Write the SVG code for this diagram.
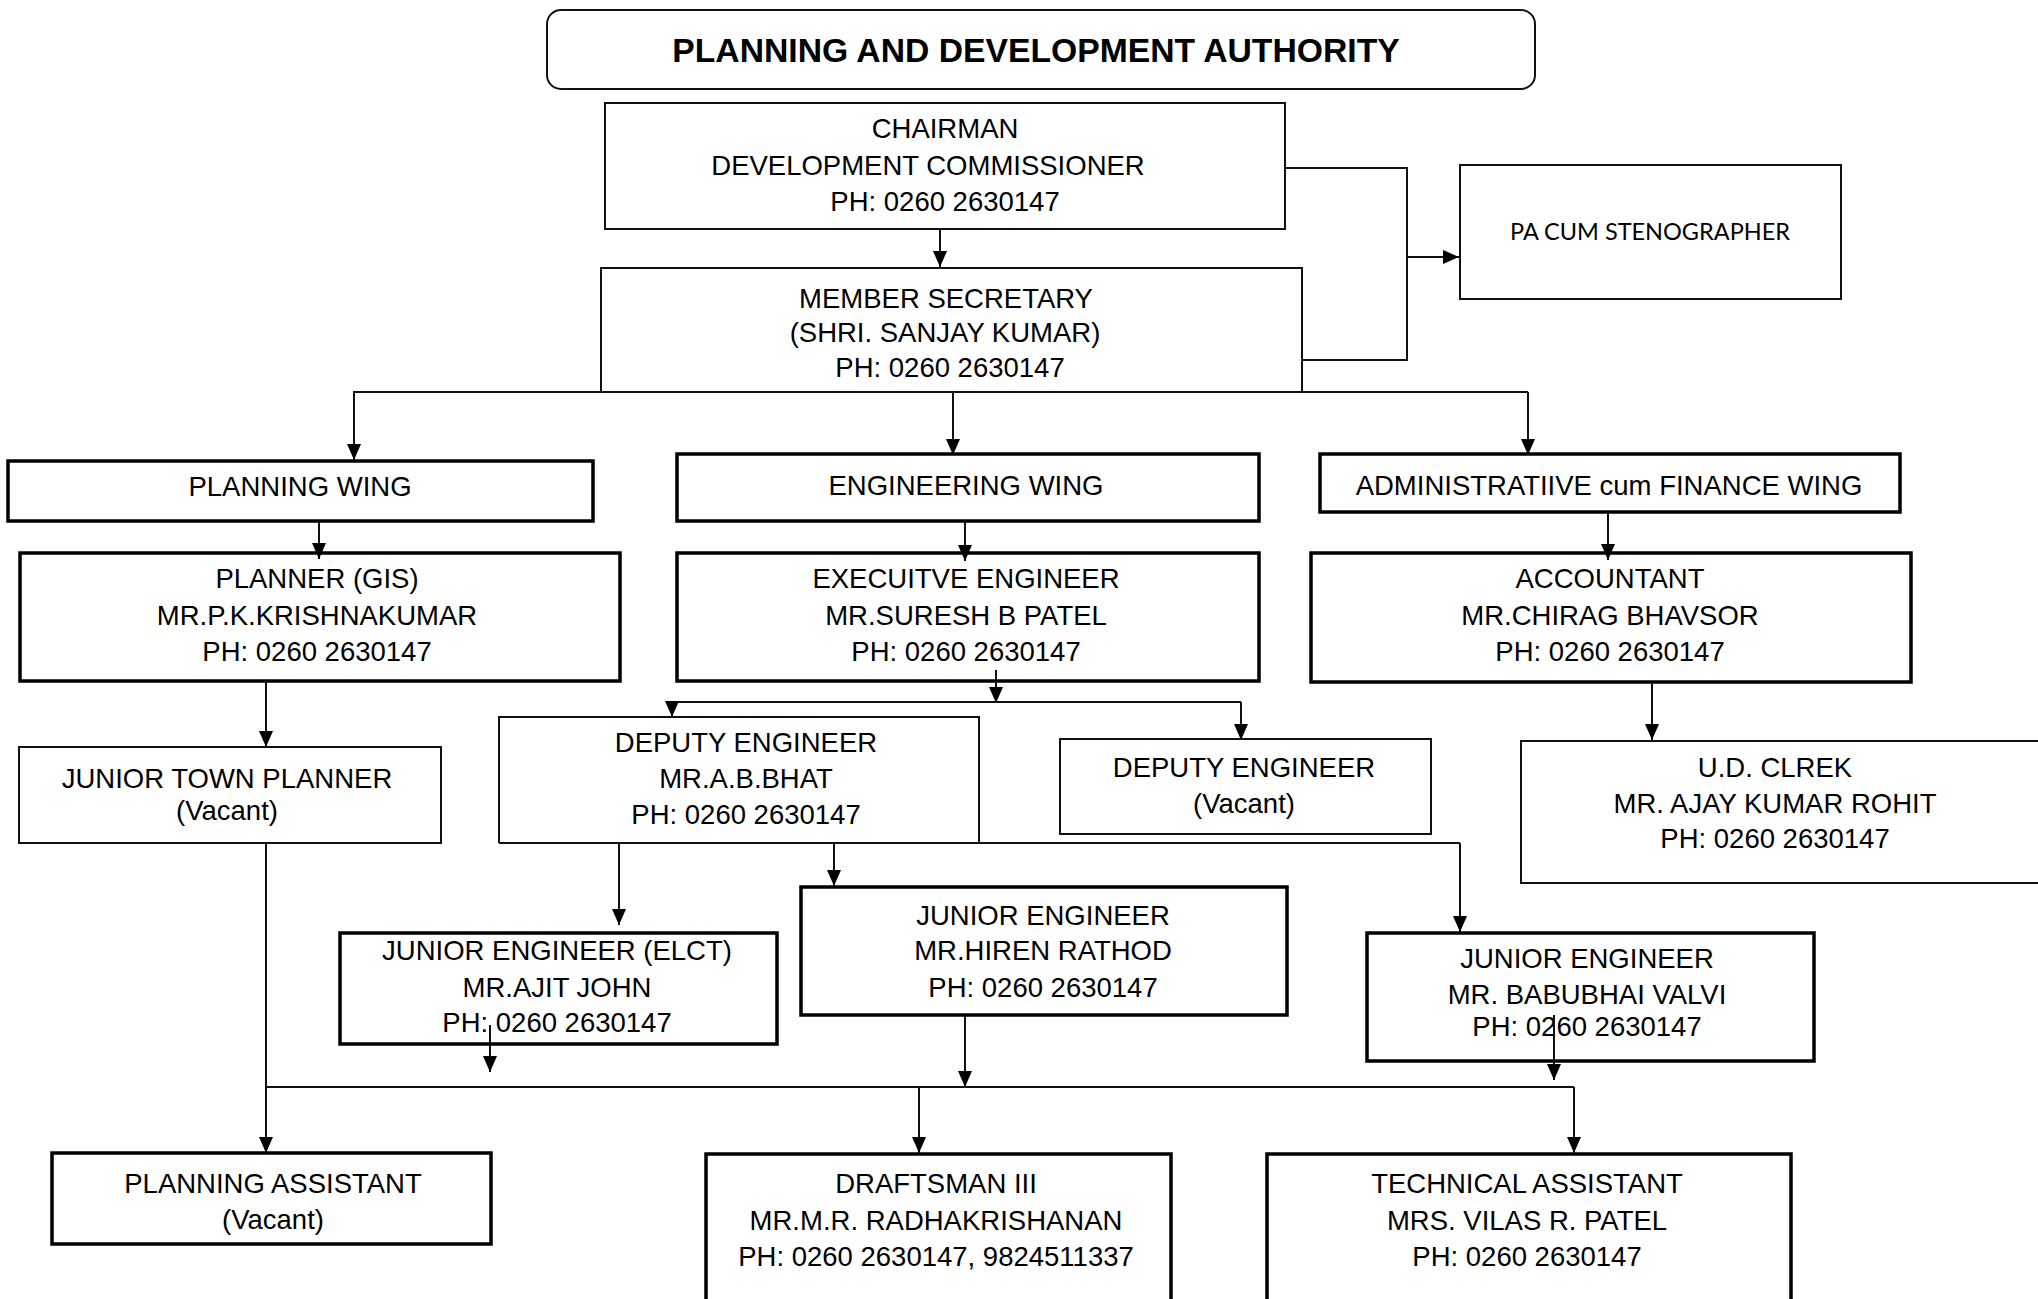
<svg xmlns="http://www.w3.org/2000/svg" width="2038" height="1299" viewBox="0 0 2038 1299">
<style>
  .t { font-family: "Liberation Sans", Arial, sans-serif; font-size: 27.5px; fill: #000; text-anchor: middle; }
  .title { font-family: "Liberation Sans", Arial, sans-serif; font-size: 33.7px; font-weight: bold; fill: #000; text-anchor: middle; }
  .cal { font-family: Lato, "Open Sans", sans-serif; font-size: 23.5px; fill: #000; text-anchor: middle; }
  .thin { fill: #fff; stroke: #111; stroke-width: 2; }
  .thick { fill: #fff; stroke: #000; stroke-width: 3.5; }
  .c { fill: none; stroke: #111; stroke-width: 2; }
  .a { fill: none; stroke: #111; stroke-width: 2; marker-end: url(#arr); }
</style>
<defs>
  <marker id="arr" markerUnits="userSpaceOnUse" markerWidth="16" markerHeight="14" refX="16" refY="7" orient="auto">
    <path d="M0,0 L16,7 L0,14 z" fill="#000"/>
  </marker>
</defs>
<rect width="2038" height="1299" fill="#fff"/>

<g id="title">
  <rect x="547" y="10" width="988" height="79" rx="14" class="thin"/>
  <text class="title" x="1036" y="62">PLANNING AND DEVELOPMENT AUTHORITY</text>
</g>

<g id="chairman">
  <rect x="605" y="103" width="680" height="126" class="thin"/>
  <text class="t" x="945" y="138">CHAIRMAN</text>
  <text class="t" x="928" y="175">DEVELOPMENT COMMISSIONER</text>
  <text class="t" x="945" y="211">PH: 0260 2630147</text>
</g>

<g id="member-secretary">
  <path class="c" d="M601,392 V268 H1302 V392"/>
  <text class="t" x="946" y="308">MEMBER SECRETARY</text>
  <text class="t" x="945" y="342">(SHRI. SANJAY KUMAR)</text>
  <text class="t" x="950" y="377">PH: 0260 2630147</text>
</g>

<g id="pa-stenographer">
  <rect x="1460" y="165" width="381" height="134" class="thin"/>
  <text class="cal" x="1650" y="240">PA CUM STENOGRAPHER</text>
</g>

<g id="planning-wing">
  <rect x="8" y="461" width="585" height="60" class="thick"/>
  <text class="t" x="300" y="496">PLANNING WING</text>
</g>

<g id="engineering-wing">
  <rect x="677" y="454" width="582" height="67" class="thick"/>
  <text class="t" x="966" y="495">ENGINEERING WING</text>
</g>

<g id="admin-wing">
  <rect x="1320" y="454" width="580" height="58" class="thick"/>
  <text class="t" x="1609" y="495">ADMINISTRATIIVE cum FINANCE WING</text>
</g>

<g id="planner">
  <rect x="20" y="553" width="600" height="128" class="thick"/>
  <text class="t" x="317" y="588">PLANNER (GIS)</text>
  <text class="t" x="317" y="625">MR.P.K.KRISHNAKUMAR</text>
  <text class="t" x="317" y="661">PH: 0260 2630147</text>
</g>

<g id="executive-engineer">
  <rect x="677" y="553" width="582" height="128" class="thick"/>
  <text class="t" x="966" y="588">EXECUITVE ENGINEER</text>
  <text class="t" x="966" y="625">MR.SURESH B PATEL</text>
  <text class="t" x="966" y="661">PH: 0260 2630147</text>
</g>

<g id="accountant">
  <rect x="1311" y="553" width="600" height="129" class="thick"/>
  <text class="t" x="1610" y="588">ACCOUNTANT</text>
  <text class="t" x="1610" y="625">MR.CHIRAG BHAVSOR</text>
  <text class="t" x="1610" y="661">PH: 0260 2630147</text>
</g>

<g id="junior-town-planner">
  <rect x="19" y="747" width="422" height="96" class="thin"/>
  <text class="t" x="227" y="788">JUNIOR TOWN PLANNER</text>
  <text class="t" x="227" y="820">(Vacant)</text>
</g>

<g id="deputy-engineer-bhat">
  <path class="c" d="M499,843 V717 H979 V843"/>
  <text class="t" x="746" y="752">DEPUTY ENGINEER</text>
  <text class="t" x="746" y="788">MR.A.B.BHAT</text>
  <text class="t" x="746" y="824">PH: 0260 2630147</text>
</g>

<g id="deputy-engineer-vacant">
  <rect x="1060" y="739" width="371" height="95" class="thin"/>
  <text class="t" x="1244" y="777">DEPUTY ENGINEER</text>
  <text class="t" x="1244" y="813">(Vacant)</text>
</g>

<g id="ud-clerk">
  <rect x="1521" y="741" width="530" height="142" class="thin"/>
  <text class="t" x="1775" y="777">U.D. CLREK</text>
  <text class="t" x="1775" y="813">MR. AJAY KUMAR ROHIT</text>
  <text class="t" x="1775" y="848">PH: 0260 2630147</text>
</g>

<g id="je-elct">
  <rect x="340" y="933" width="437" height="111" class="thick"/>
  <text class="t" x="557" y="960">JUNIOR ENGINEER (ELCT)</text>
  <text class="t" x="557" y="997">MR.AJIT JOHN</text>
  <text class="t" x="557" y="1032">PH: 0260 2630147</text>
</g>

<g id="je-hiren">
  <rect x="801" y="887" width="486" height="128" class="thick"/>
  <text class="t" x="1043" y="925">JUNIOR ENGINEER</text>
  <text class="t" x="1043" y="960">MR.HIREN RATHOD</text>
  <text class="t" x="1043" y="997">PH: 0260 2630147</text>
</g>

<g id="je-babubhai">
  <rect x="1367" y="933" width="447" height="128" class="thick"/>
  <text class="t" x="1587" y="968">JUNIOR ENGINEER</text>
  <text class="t" x="1587" y="1004">MR. BABUBHAI VALVI</text>
  <text class="t" x="1587" y="1036">PH: 0260 2630147</text>
</g>

<g id="planning-assistant">
  <rect x="52" y="1153" width="439" height="91" class="thick"/>
  <text class="t" x="273" y="1193">PLANNING ASSISTANT</text>
  <text class="t" x="273" y="1229">(Vacant)</text>
</g>

<g id="draftsman">
  <rect x="706" y="1154" width="465" height="160" class="thick"/>
  <text class="t" x="936" y="1193">DRAFTSMAN III</text>
  <text class="t" x="936" y="1230">MR.M.R. RADHAKRISHANAN</text>
  <text class="t" x="936" y="1266">PH: 0260 2630147, 9824511337</text>
</g>

<g id="technical-assistant">
  <rect x="1267" y="1154" width="524" height="160" class="thick"/>
  <text class="t" x="1527" y="1193">TECHNICAL ASSISTANT</text>
  <text class="t" x="1527" y="1230">MRS. VILAS R. PATEL</text>
  <text class="t" x="1527" y="1266">PH: 0260 2630147</text>
</g>

<g id="connectors">
  <path class="a" d="M940,229 V267"/>
  <path class="c" d="M1285,168 H1407 V360 H1302"/>
  <path class="a" d="M1407,257 H1459"/>
  <path class="c" d="M353,392 H1528"/>
  <path class="a" d="M354,392 V460"/>
  <path class="a" d="M953,392 V455"/>
  <path class="a" d="M1528,392 V455"/>
  <path class="a" d="M319,521 V559"/>
  <path class="a" d="M965,521 V561"/>
  <path class="a" d="M1608,512 V560"/>
  <path class="a" d="M266,681 V747"/>
  <path class="a" d="M266,843 V1153"/>
  <path class="c" d="M266,1087 H1574"/>
  <path class="a" d="M996,670 V703"/>
  <path class="c" d="M672,702 H1241"/>
  <path class="a" d="M672,702 V717"/>
  <path class="a" d="M1241,702 V740"/>
  <path class="c" d="M499,843 H1460"/>
  <path class="a" d="M1460,843 V932"/>
  <path class="a" d="M619,843 V925"/>
  <path class="a" d="M834,843 V886"/>
  <path class="a" d="M490,1025 V1072"/>
  <path class="a" d="M965,1015 V1087"/>
  <path class="a" d="M1554,1015 V1080"/>
  <path class="a" d="M919,1087 V1153"/>
  <path class="a" d="M1574,1087 V1153"/>
  <path class="a" d="M1652,682 V740"/>
</g>
</svg>
